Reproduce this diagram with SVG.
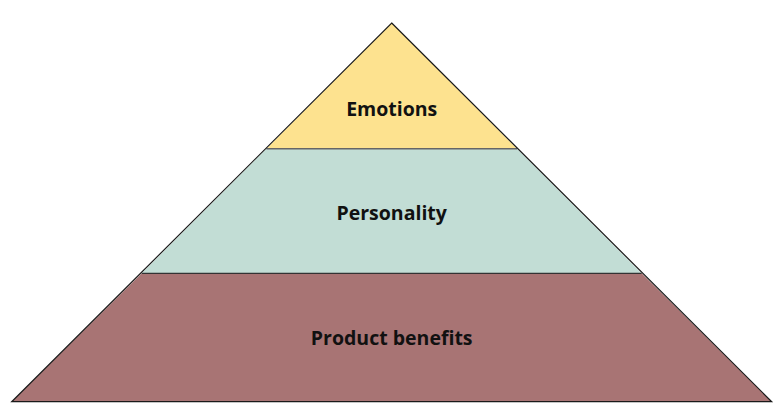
<svg xmlns="http://www.w3.org/2000/svg" width="780" height="405" viewBox="0 0 780 405">
<style>
.lbl{font-family:"Open Sans","Noto Sans","Liberation Sans",sans-serif;font-weight:bold;font-size:19.5px;fill:#111;text-anchor:middle}
.edge{stroke:#1a1a1a;stroke-width:1.2;fill:none}
</style>
<rect width="780" height="405" fill="#ffffff"/>
<g id="emotions">
<polygon points="391.7,23 517,148.7 266.4,148.7" fill="#fde28f"/>
<text class="lbl" x="391.7" y="116">Emotions</text>
</g>
<g id="personality">
<polygon points="266.4,148.7 517,148.7 641.6,273.3 141.8,273.3" fill="#c2ddd5"/>
<text class="lbl" x="391.7" y="220">Personality</text>
</g>
<g id="product-benefits">
<polygon points="141.8,273.3 641.6,273.3 771.7,401.7 11.7,401.7" fill="#a87474"/>
<text class="lbl" x="391.7" y="345">Product benefits</text>
</g>
<g id="connectors">
<line x1="266.4" y1="148.7" x2="517" y2="148.7" stroke="#666" stroke-width="1.6"/>
<line x1="141.8" y1="273.3" x2="641.6" y2="273.3" stroke="#333" stroke-width="1.2"/>
<polygon class="edge" points="391.7,23 771.7,401.7 11.7,401.7"/>
</g>
</svg>
